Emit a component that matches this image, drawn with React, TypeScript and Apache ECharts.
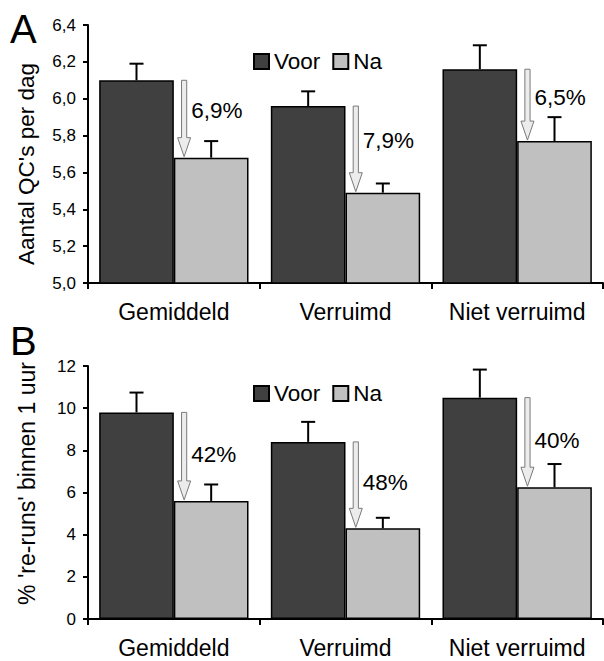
import React, { useEffect, useRef } from "react";
import * as echarts from "echarts";

const categories = ["Gemiddeld", "Verruimd", "Niet verruimd"];

// Panel A: Aantal QC's per dag
const aVoor = [6.10, 5.96, 6.16];
const aNa = [5.68, 5.49, 5.77];
const aVoorErr = [0.09, 0.08, 0.13];
const aNaErr = [0.09, 0.05, 0.13];
const aLabels = ["6,9%", "7,9%", "6,5%"];

// Panel B: % 're-runs' binnen 1 uur
const bVoor = [9.8, 8.4, 10.5];
const bNa = [5.6, 4.3, 6.25];
const bVoorErr = [0.94, 0.95, 1.33];
const bNaErr = [0.78, 0.5, 1.1];
const bLabels = ["42%", "48%", "40%"];

const FONT = "'Liberation Sans', Arial, sans-serif";
const CAT_GAP = 0.13;

function errData(voor: number[], na: number[], ve: number[], ne: number[]) {
  const d: number[][] = [];
  voor.forEach((v, i) => d.push([i, v, ve[i], 0]));
  na.forEach((v, i) => d.push([i, v, ne[i], 1]));
  return d;
}

function errRender(params: any, api: any) {
  const cat = api.value(0);
  const mean = api.value(1);
  const err = api.value(2);
  const side = api.value(3);
  const band = api.size([1, 0])[0];
  const bw = (band * (1 - CAT_GAP)) / 2;
  const c = api.coord([cat, mean]);
  const x = c[0] + (side === 0 ? -bw / 2 : bw / 2);
  const top = api.coord([cat, mean + err])[1];
  return {
    type: "group",
    children: [
      { type: "line", shape: { x1: x, y1: c[1], x2: x, y2: top }, style: { stroke: "#000", lineWidth: 2 } },
      { type: "line", shape: { x1: x - 7, y1: top, x2: x + 7, y2: top }, style: { stroke: "#000", lineWidth: 2 } },
    ],
  };
}

function arrowRender(labels: string[], labelFrac: number) {
  return (params: any, api: any) => {
    const cat = api.value(0);
    const from = api.value(1);
    const to = api.value(2);
    const band = api.size([1, 0])[0];
    const x = api.coord([cat, from])[0] + band * 0.06;
    const yTop = api.coord([cat, from])[1];
    const yTip = api.coord([cat, to])[1] - 1;
    const hl = 19;
    const sw = 2.6;
    const hw = 6.5;
    const yText = yTop + (yTip - yTop) * labelFrac;
    return {
      type: "group",
      children: [
        {
          type: "polygon",
          shape: {
            points: [
              [x - sw, yTop],
              [x + sw, yTop],
              [x + sw, yTip - hl],
              [x + hw, yTip - hl],
              [x, yTip],
              [x - hw, yTip - hl],
              [x - sw, yTip - hl],
            ],
          },
          style: { fill: "#ececec", stroke: "#7a7a7a", lineWidth: 1 },
        },
        {
          type: "text",
          style: {
            text: labels[params.dataIndex],
            x: x + 7,
            y: yText,
            fill: "#000",
            font: `22.5px ${FONT}`,
            verticalAlign: "middle",
            align: "left",
          },
        },
      ],
    };
  };
}

export default function App() {
  const ref = useRef<HTMLDivElement>(null);
  useEffect(() => {
    if (!ref.current) return;
    const chart = echarts.init(ref.current, undefined, { renderer: "svg" });
    const fmt = (v: number) => v.toFixed(1).replace(".", ",");
    const xAxisBase = {
      type: "category",
      data: categories,
      boundaryGap: true,
      axisLine: { lineStyle: { color: "#000", width: 2 } },
      axisTick: { show: true, length: 6, interval: 0, lineStyle: { color: "#000", width: 2 } },
      axisLabel: { color: "#000", fontSize: 23, fontFamily: FONT, margin: 17, interval: 0 },
    };
    const yAxisBase = {
      type: "value",
      splitLine: { show: false },
      axisLine: { show: true, lineStyle: { color: "#000", width: 2 } },
      axisTick: { show: true, length: 5, lineStyle: { color: "#000", width: 2 } },
      nameLocation: "middle",
      nameGap: 50,
    };
    const barStyle = (color: string) => ({ color, borderColor: "#000", borderWidth: 1.5 });
    const legendBase = {
      data: ["Voor", "Na"],
      icon: "rect",
      itemWidth: 15,
      itemHeight: 15,
      itemGap: 12,
      textStyle: { color: "#000", fontSize: 22.5, fontFamily: FONT },
      selectedMode: false,
    };
    chart.setOption({
      animation: false,
      backgroundColor: "#fff",
      grid: [
        { left: 88, top: 25, right: 1, height: 258 },
        { left: 88, top: 366, right: 1, height: 253 },
      ],
      legend: [
        { ...legendBase, left: 248, top: 45 },
        { ...legendBase, left: 248, top: 377 },
      ],
      xAxis: [
        { ...xAxisBase, gridIndex: 0 },
        { ...xAxisBase, gridIndex: 1 },
      ],
      yAxis: [
        {
          ...yAxisBase,
          gridIndex: 0,
          min: 5,
          max: 6.4,
          interval: 0.2,
          name: "Aantal QC's per dag",
          nameTextStyle: { color: "#000", fontSize: 22.5, fontFamily: FONT, padding: [0, 20, 0, 0] },
          axisLabel: { color: "#000", fontSize: 17, fontFamily: FONT, margin: 12, formatter: fmt },
        },
        {
          ...yAxisBase,
          gridIndex: 1,
          min: 0,
          max: 12,
          interval: 2,
          name: "% 're-runs' binnen 1 uur",
          nameTextStyle: { color: "#000", fontSize: 23, fontFamily: FONT, padding: [0, 0, 0, 18] },
          axisLabel: { color: "#000", fontSize: 17, fontFamily: FONT, margin: 12 },
        },
      ],
      series: [
        { type: "bar", name: "Voor", xAxisIndex: 0, yAxisIndex: 0, data: aVoor, barGap: "0%", barCategoryGap: "13%", itemStyle: barStyle("#404040") },
        { type: "bar", name: "Na", xAxisIndex: 0, yAxisIndex: 0, data: aNa, barGap: "0%", barCategoryGap: "13%", itemStyle: barStyle("#c0c0c0") },
        { type: "bar", name: "Voor", xAxisIndex: 1, yAxisIndex: 1, data: bVoor, barGap: "0%", barCategoryGap: "13%", itemStyle: barStyle("#404040") },
        { type: "bar", name: "Na", xAxisIndex: 1, yAxisIndex: 1, data: bNa, barGap: "0%", barCategoryGap: "13%", itemStyle: barStyle("#c0c0c0") },
        { type: "custom", name: "errA", xAxisIndex: 0, yAxisIndex: 0, z: 5, renderItem: errRender, data: errData(aVoor, aNa, aVoorErr, aNaErr) },
        { type: "custom", name: "errB", xAxisIndex: 1, yAxisIndex: 1, z: 5, renderItem: errRender, data: errData(bVoor, bNa, bVoorErr, bNaErr) },
        { type: "custom", name: "arrA", xAxisIndex: 0, yAxisIndex: 0, z: 6, renderItem: arrowRender(aLabels, 0.4), data: aVoor.map((v, i) => [i, v, aNa[i]]) },
        { type: "custom", name: "arrB", xAxisIndex: 1, yAxisIndex: 1, z: 6, renderItem: arrowRender(bLabels, 0.48), data: bVoor.map((v, i) => [i, v, bNa[i]]) },
      ],
      graphic: [
        { type: "text", left: 10, top: 9, style: { text: "A", font: `40px ${FONT}`, fill: "#000" } },
        { type: "text", left: 10, top: 321, style: { text: "B", font: `40px ${FONT}`, fill: "#000" } },
      ],
    });
    return () => chart.dispose();
  }, []);
  return <div ref={ref} style={{ position: "absolute", left: 0, top: 0, width: 604, height: 661 }} />;
}
